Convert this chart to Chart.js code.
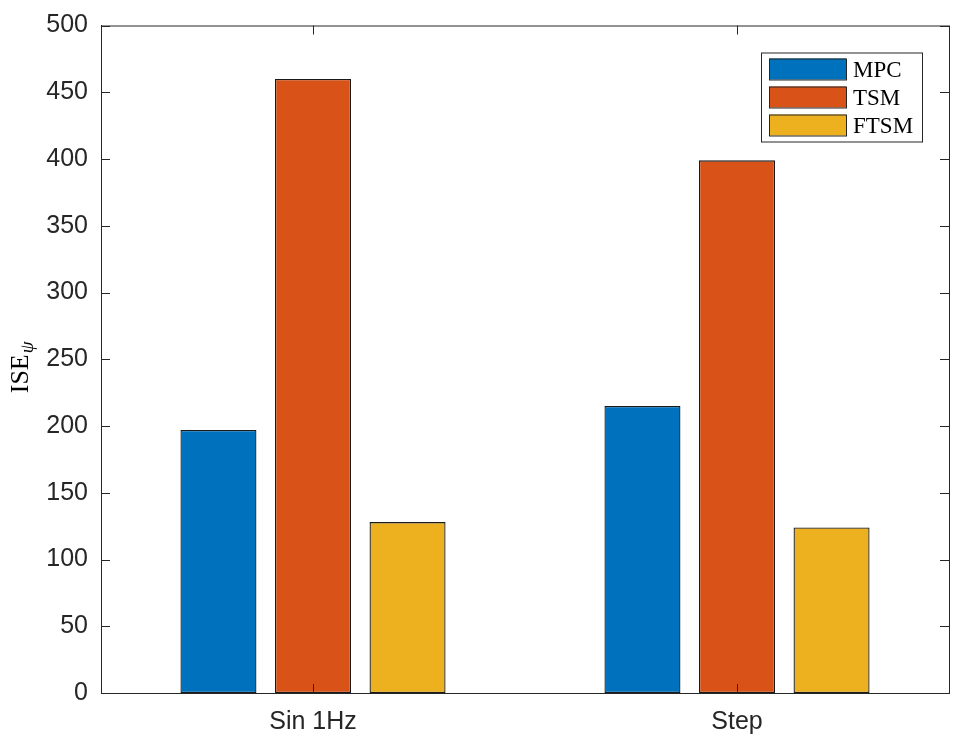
<!DOCTYPE html>
<html>
<head>
<meta charset="utf-8">
<script src="https://cdn.jsdelivr.net/npm/chart.js@4"></script>
<style>
  html, body { margin: 0; padding: 0; background: #fff; }
  #wrap { width: 969px; height: 744px; }
</style>
</head>
<body>
<div id="wrap"><canvas id="js--bars"></canvas></div>
<script>
const categories = ['Sin 1Hz', 'Step'];
const methods = ['MPC', 'TSM', 'FTSM'];
const mpc = [197, 215];
const tsm = [460, 399];
const ftsm = [128, 124];
const yTicks = [0, 50, 100, 150, 200, 250, 300, 350, 400, 450, 500];

const colors = ['#0072BD', '#D95319', '#EDB120'];
const ink = '#262626';

const seriesValues = [mpc, tsm, ftsm];

// matlab style box, inward ticks, legend and y label
const matlabAxes = {
  id: 'matlabAxes',
  afterDraw(chart) {
    const ctx = chart.ctx;
    const a = chart.chartArea;
    const y = chart.scales.y;
    const x = chart.scales.x;
    ctx.save();
    ctx.strokeStyle = ink;
    ctx.lineWidth = 1;
    ctx.strokeRect(a.left + 0.5, a.top + 0.5, a.right - a.left, a.bottom - a.top);
    ctx.beginPath();
    yTicks.forEach(function (v) {
      const py = Math.round(y.getPixelForValue(v)) + 0.5;
      ctx.moveTo(a.left, py); ctx.lineTo(a.left + 9, py);
      ctx.moveTo(a.right, py); ctx.lineTo(a.right - 9, py);
    });
    categories.forEach(function (c, i) {
      const px = Math.round(x.getPixelForValue(i)) + 0.5;
      ctx.moveTo(px, a.bottom); ctx.lineTo(px, a.bottom - 9);
      ctx.moveTo(px, a.top); ctx.lineTo(px, a.top + 9);
    });
    ctx.stroke();

    // legend box
    const lx = a.right - 188, ly = a.top + 27, lw = 161, lh = 89;
    ctx.fillStyle = '#fff';
    ctx.fillRect(lx, ly, lw, lh);
    ctx.strokeRect(lx + 0.5, ly + 0.5, lw, lh);
    ctx.font = '23px "Liberation Serif"';
    ctx.textBaseline = 'middle';
    chart.data.datasets.forEach(function (ds, i) {
      const ry = ly + 6 + i * 28;
      ctx.fillStyle = ds.backgroundColor;
      ctx.fillRect(lx + 8, ry, 77, 21);
      ctx.strokeStyle = ink;
      ctx.strokeRect(lx + 8.5, ry + 0.5, 77, 21);
      ctx.fillStyle = '#000';
      ctx.fillText(ds.label, lx + 92, ry + 12);
    });

    // y label ISE_psi
    ctx.translate(28, (a.top + a.bottom) / 2 + 34);
    ctx.rotate(-Math.PI / 2);
    ctx.fillStyle = '#000';
    ctx.textBaseline = 'alphabetic';
    ctx.font = '26px "Liberation Serif"';
    ctx.fillText('ISE', 0, 0);
    const w = ctx.measureText('ISE').width;
    ctx.font = 'italic 19px "Liberation Serif"';
    ctx.fillText('\u03C8', w + 1, 5);
    ctx.restore();
  }
};

new Chart(document.getElementById('js--bars'), {
  type: 'bar',
  data: {
    labels: categories,
    datasets: methods.map(function (m, i) {
      return {
        label: m,
        data: seriesValues[i],
        backgroundColor: colors[i],
        borderColor: '#1a1a1a',
        borderWidth: 1.3,
        borderSkipped: false,
        categoryPercentage: 0.669,
        barPercentage: 0.804
      };
    })
  },
  options: {
    responsive: true,
    maintainAspectRatio: false,
    animation: false,
    layout: { padding: { top: 25, right: 20, left: 0, bottom: 0 } },
    plugins: { legend: { display: false }, tooltip: { enabled: false } },
    scales: {
      x: {
        grid: { display: false, drawTicks: false },
        border: { display: true, color: ink },
        ticks: { color: ink, padding: 14, font: { family: '"Liberation Sans"', size: 25 } },
        afterFit: function (s) { s.height = 51; }
      },
      y: {
        min: 0,
        max: 500,
        grid: { display: false, drawTicks: false },
        border: { display: true, color: ink },
        ticks: {
          stepSize: 50,
          color: ink,
          padding: 13,
          font: { family: '"Liberation Sans"', size: 25, lineHeight: 1 }
        },
        afterFit: function (s) { s.width = 101; }
      }
    }
  },
  plugins: [matlabAxes]
});
</script>
</body>
</html>
